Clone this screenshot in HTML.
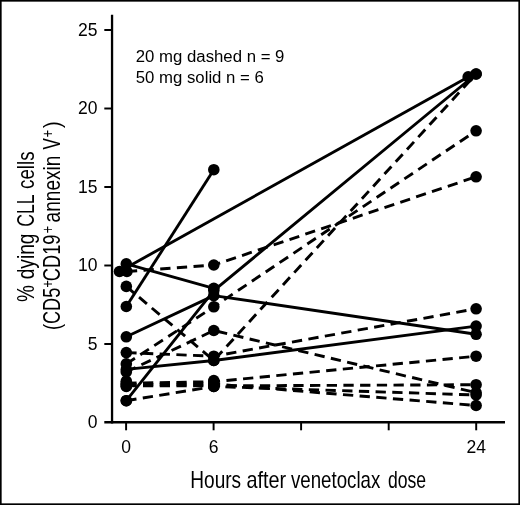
<!DOCTYPE html>
<html><head><meta charset="utf-8"><title>chart</title>
<style>
html,body{margin:0;padding:0;background:#fff;}
body{width:520px;height:505px;overflow:hidden;font-family:"Liberation Sans",sans-serif;}
svg{display:block;will-change:transform;filter:grayscale(1);}
text{font-family:"Liberation Sans",sans-serif;fill:#000;}
</style></head><body>
<svg width="520" height="505" viewBox="0 0 520 505">
<rect x="0" y="0" width="520" height="505" fill="#fff"/>
<rect x="0.8" y="0.8" width="518.4" height="503.4" fill="none" stroke="#000" stroke-width="1.7"/>

<g stroke="#000" stroke-width="1.95" fill="none" stroke-linecap="butt">
<line x1="112.05" y1="14.8" x2="112.05" y2="423.5" stroke-width="2.3"/>
<line x1="104.3" y1="422.3" x2="505" y2="422.3" stroke-width="2.5"/>
<line x1="104.3" y1="344.0" x2="112.1" y2="344.0"/>
<line x1="104.3" y1="265.5" x2="112.1" y2="265.5"/>
<line x1="104.3" y1="187.0" x2="112.1" y2="187.0"/>
<line x1="104.3" y1="108.5" x2="112.1" y2="108.5"/>
<line x1="104.3" y1="30.0" x2="112.1" y2="30.0"/>
<line x1="126.1" y1="422.4" x2="126.1" y2="430.3"/>
<line x1="213.6" y1="422.4" x2="213.6" y2="430.3"/>
<line x1="301.1" y1="422.4" x2="301.1" y2="430.3"/>
<line x1="388.7" y1="422.4" x2="388.7" y2="430.3"/>
<line x1="476.2" y1="422.4" x2="476.2" y2="430.3"/>
</g>
<g font-size="17.5" text-anchor="end">
<text x="97.5" y="428.2">0</text>
<text x="97.5" y="349.7">5</text>
<text x="97.5" y="271.2">10</text>
<text x="97.5" y="192.7">15</text>
<text x="97.5" y="114.2">20</text>
<text x="97.5" y="35.7">25</text>
</g>
<g font-size="17.5" text-anchor="middle">
<text x="126.1" y="452.8">0</text>
<text x="213.6" y="452.8">6</text>
<text x="476.2" y="452.8">24</text>
</g>
<text x="135.8" y="62.2" font-size="16" textLength="148.6" lengthAdjust="spacingAndGlyphs">20 mg dashed n = 9</text>
<text x="135.8" y="82.6" font-size="16" textLength="128.0" lengthAdjust="spacingAndGlyphs">50 mg solid n = 6</text>
<text x="190.26" y="487.7" font-size="23.2" textLength="50.87" lengthAdjust="spacingAndGlyphs">Hours</text>
<text x="246.44" y="487.7" font-size="23.2" textLength="39.72" lengthAdjust="spacingAndGlyphs">after</text>
<text x="291.00" y="487.7" font-size="23.2" textLength="89.33" lengthAdjust="spacingAndGlyphs">venetoclax</text>
<text x="387.94" y="487.7" font-size="23.2" textLength="38.16" lengthAdjust="spacingAndGlyphs">dose</text>
<text transform="translate(34.00,302.11) rotate(-90)" font-size="23.4" textLength="16.86" lengthAdjust="spacingAndGlyphs">%</text>
<text transform="translate(34.00,279.32) rotate(-90)" font-size="23.4" textLength="45.80" lengthAdjust="spacingAndGlyphs">dying</text>
<text transform="translate(34.00,226.85) rotate(-90)" font-size="23.4" textLength="32.46" lengthAdjust="spacingAndGlyphs">CLL</text>
<text transform="translate(34.00,189.00) rotate(-90)" font-size="23.4" textLength="37.55" lengthAdjust="spacingAndGlyphs">cells</text>
<text transform="translate(59.70,329.96) rotate(-90)" font-size="23.4" textLength="42.21" lengthAdjust="spacingAndGlyphs">(CD5</text>
<text transform="translate(53.00,287.80) rotate(-90)" font-size="16.4" textLength="7.66" lengthAdjust="spacingAndGlyphs">+</text>
<text transform="translate(59.70,281.18) rotate(-90)" font-size="23.4" textLength="46.71" lengthAdjust="spacingAndGlyphs">CD19</text>
<text transform="translate(53.00,233.61) rotate(-90)" font-size="16.4" textLength="7.78" lengthAdjust="spacingAndGlyphs">+</text>
<text transform="translate(59.70,222.42) rotate(-90)" font-size="23.4" textLength="66.81" lengthAdjust="spacingAndGlyphs">annexin</text>
<text transform="translate(59.70,149.38) rotate(-90)" font-size="23.4" textLength="11.26" lengthAdjust="spacingAndGlyphs">V</text>
<text transform="translate(53.20,137.60) rotate(-90)" font-size="16.4" textLength="7.66" lengthAdjust="spacingAndGlyphs">+</text>
<text transform="translate(59.70,128.02) rotate(-90)" font-size="23.4" textLength="6.75" lengthAdjust="spacingAndGlyphs">)</text>
<g stroke="#000" stroke-width="2.9" fill="none" stroke-linejoin="round">
<polyline points="126.3,306.5 213.8,169.7"/>
<polyline points="119.5,271.5 468.2,76.9"/>
<polyline points="126.3,263.9 213.8,288.3"/>
<polyline points="126.3,336.8 213.8,295.6 476.1,334.3"/>
<polyline points="126.3,369.4 213.8,360.5 476.1,326.1"/>
<polyline points="126.3,400.7 213.8,290.6 476.1,74.0"/>
</g>
<g stroke="#000" stroke-width="2.9" fill="none" stroke-dasharray="10.3 6.4" stroke-linejoin="round">
<polyline points="126.9,271.5 213.8,265.0 476.1,176.8"/>
<polyline points="126.3,286.4 213.8,360.5 476.1,74.0"/>
<polyline points="126.3,352.6 213.8,356.2 476.1,308.8"/>
<polyline points="126.3,371.9 213.8,330.5 476.1,392.7"/>
<polyline points="126.3,363.9 213.8,306.8 476.1,130.8"/>
<polyline points="126.3,383.2 213.8,381.7 476.1,356.2"/>
<polyline points="126.3,385.9 213.8,385.9 476.1,384.7"/>
<polyline points="126.3,400.7 213.8,386.5 476.1,395.0"/>
<polyline points="126.3,384.5 213.8,384.0 476.1,405.5"/>
</g>
<g fill="#000">
<circle cx="126.3" cy="306.5" r="5.8"/>
<circle cx="213.8" cy="169.7" r="5.8"/>
<circle cx="119.5" cy="271.5" r="5.8"/>
<circle cx="468.2" cy="76.9" r="5.8"/>
<circle cx="126.3" cy="263.9" r="5.8"/>
<circle cx="213.8" cy="288.3" r="5.8"/>
<circle cx="126.3" cy="336.8" r="5.8"/>
<circle cx="213.8" cy="295.6" r="5.8"/>
<circle cx="476.1" cy="334.3" r="5.8"/>
<circle cx="126.3" cy="369.4" r="5.8"/>
<circle cx="213.8" cy="360.5" r="5.8"/>
<circle cx="476.1" cy="326.1" r="5.8"/>
<circle cx="126.3" cy="400.7" r="5.8"/>
<circle cx="213.8" cy="290.6" r="5.8"/>
<circle cx="476.1" cy="74.0" r="5.8"/>
<circle cx="126.9" cy="271.5" r="5.8"/>
<circle cx="213.8" cy="265.0" r="5.8"/>
<circle cx="476.1" cy="176.8" r="5.8"/>
<circle cx="126.3" cy="286.4" r="5.8"/>
<circle cx="213.8" cy="360.5" r="5.8"/>
<circle cx="476.1" cy="74.0" r="5.8"/>
<circle cx="126.3" cy="352.6" r="5.8"/>
<circle cx="213.8" cy="356.2" r="5.8"/>
<circle cx="476.1" cy="308.8" r="5.8"/>
<circle cx="126.3" cy="371.9" r="5.8"/>
<circle cx="213.8" cy="330.5" r="5.8"/>
<circle cx="476.1" cy="392.7" r="5.8"/>
<circle cx="126.3" cy="363.9" r="5.8"/>
<circle cx="213.8" cy="306.8" r="5.8"/>
<circle cx="476.1" cy="130.8" r="5.8"/>
<circle cx="126.3" cy="383.2" r="5.8"/>
<circle cx="213.8" cy="381.7" r="5.8"/>
<circle cx="476.1" cy="356.2" r="5.8"/>
<circle cx="126.3" cy="385.9" r="5.8"/>
<circle cx="213.8" cy="385.9" r="5.8"/>
<circle cx="476.1" cy="384.7" r="5.8"/>
<circle cx="126.3" cy="400.7" r="5.8"/>
<circle cx="213.8" cy="386.5" r="5.8"/>
<circle cx="476.1" cy="395.0" r="5.8"/>
<circle cx="126.3" cy="384.5" r="5.8"/>
<circle cx="213.8" cy="384.0" r="5.8"/>
<circle cx="476.1" cy="405.5" r="5.8"/>
<circle cx="126.3" cy="381.2" r="5.8"/>
<circle cx="126.3" cy="386.4" r="5.8"/>
<circle cx="213.8" cy="380.6" r="5.8"/>
<circle cx="213.8" cy="386.5" r="5.8"/>
</g>
</svg></body></html>
